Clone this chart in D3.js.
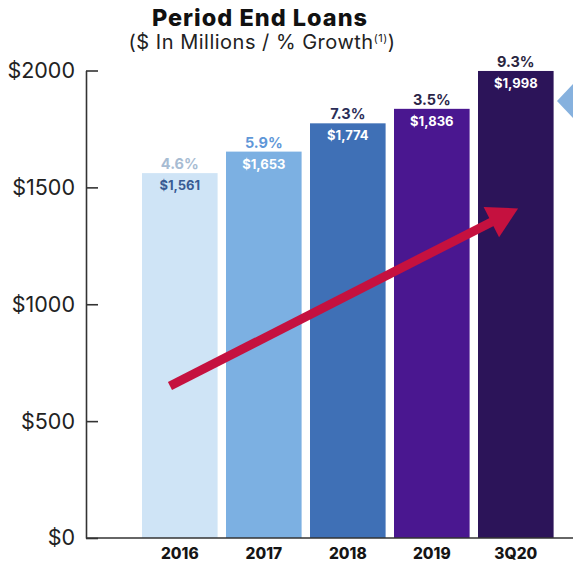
<!DOCTYPE html>
<html>
<head>
<meta charset="utf-8">
<script src="https://cdn.jsdelivr.net/npm/d3@7"></script>
<style>
  html, body { margin: 0; padding: 0; background: #ffffff; }
  svg { display: block; }
  text { font-family: Inter, "Open Sans", sans-serif; }
</style>
</head>
<body>
<svg id="chart" width="573" height="566"></svg>
<script>
// Period end loans, $ millions, with year-over-year growth
const categories = ["2016", "2017", "2018", "2019", "3Q20"];
const loans = [1561, 1653, 1774, 1836, 1998];
const growth = ["4.6%", "5.9%", "7.3%", "3.5%", "9.3%"];
const yTicks = [0, 500, 1000, 1500, 2000];

// Trend arrow expressed in data terms: [category, position within band, value]
const trendStart = ["2016", 0.37, 650];
const trendEnd = ["3Q20", 0.53, 1410];

const barColors = ["#cfe4f6", "#7cb0e2", "#3f70b6", "#4a1790", "#2c1459"];
const pctColors = ["#a7bcd3", "#5f97d8", "#2b2d58", "#2a2548", "#2a2540"];
const valColors = ["#3a5b94", "#ffffff", "#ffffff", "#ffffff", "#ffffff"];

const svg = d3.select("#chart");
const axisX = 86, baseY = 538, topY = 70.5;
const labelFont = "'Liberation Sans', Arial, sans-serif";

const x = d3.scaleBand()
  .domain(categories)
  .range([137.8, 557.8])
  .paddingInner(0.1)
  .paddingOuter(0.05);

const y = d3.scaleLinear()
  .domain([0, 2000])
  .range([baseY, topY]);

// Title
svg.append("text")
  .attr("x", 260).attr("y", 26)
  .attr("text-anchor", "middle")
  .attr("font-size", 23.5).attr("font-weight", 800)
  .attr("letter-spacing", 1)
  .attr("fill", "#111")
  .text("Period End Loans");

const sub = svg.append("text")
  .attr("x", 262).attr("y", 49)
  .attr("text-anchor", "middle")
  .attr("font-size", 20)
  .attr("letter-spacing", 0.5)
  .attr("fill", "#222");
sub.append("tspan").text("($ In Millions / % Growth");
sub.append("tspan").attr("font-size", 11).attr("dy", -7).text("(1)");
sub.append("tspan").attr("dy", 7).text(")");

// Bars
const bars = svg.append("g");
bars.selectAll("rect")
  .data(categories)
  .join("rect")
  .attr("x", d => x(d))
  .attr("y", (d, i) => y(loans[i]))
  .attr("width", x.bandwidth())
  .attr("height", (d, i) => baseY - y(loans[i]))
  .attr("fill", (d, i) => barColors[i]);

// Value labels inside bar tops
bars.selectAll("text.val")
  .data(categories)
  .join("text")
  .attr("class", "val")
  .attr("x", d => x(d) + x.bandwidth() / 2)
  .attr("y", (d, i) => y(loans[i]) + 17)
  .attr("text-anchor", "middle")
  .attr("font-family", labelFont)
  .attr("font-size", 13).attr("font-weight", 700)
  .attr("fill", (d, i) => valColors[i])
  .text((d, i) => "$" + d3.format(",")(loans[i]));

// Growth labels above bars
bars.selectAll("text.pct")
  .data(categories)
  .join("text")
  .attr("class", "pct")
  .attr("x", d => x(d) + x.bandwidth() / 2)
  .attr("y", (d, i) => y(loans[i]) - 4)
  .attr("text-anchor", "middle")
  .attr("font-family", labelFont)
  .attr("font-size", 14.5).attr("font-weight", 700)
  .attr("fill", (d, i) => pctColors[i])
  .text((d, i) => growth[i]);

// Y axis with inward ticks
const yAxis = d3.axisLeft(y)
  .tickValues(yTicks)
  .tickSize(-12)
  .tickSizeOuter(0)
  .tickPadding(11)
  .tickFormat(d => "$" + d);

const gy = svg.append("g")
  .attr("transform", `translate(${axisX},0)`)
  .call(yAxis);
gy.select(".domain").attr("stroke", "#333").attr("stroke-width", 1.6);
gy.selectAll(".tick line").attr("stroke", "#333").attr("stroke-width", 1.6);
gy.selectAll(".tick text")
  .attr("font-size", 21.5)
  .attr("font-family", "Inter, sans-serif")
  .attr("fill", "#222");

// X axis: category labels and a baseline running to the edge
const xAxis = d3.axisBottom(x).tickSize(0).tickPadding(10);
const gx = svg.append("g")
  .attr("transform", `translate(0,${baseY})`)
  .call(xAxis);
gx.select(".domain").remove();
gx.selectAll(".tick text")
  .attr("font-size", 15.5).attr("font-weight", 800)
  .attr("font-family", "Inter, sans-serif")
  .attr("fill", "#151515");

svg.append("line")
  .attr("x1", axisX).attr("x2", 573)
  .attr("y1", baseY).attr("y2", baseY)
  .attr("stroke", "#333").attr("stroke-width", 1.6);

// Trend arrow
const x0 = x(trendStart[0]) + x.bandwidth() * trendStart[1];
const y0 = y(trendStart[2]);
const x1 = x(trendEnd[0]) + x.bandwidth() * trendEnd[1];
const y1 = y(trendEnd[2]);
const ang = Math.atan2(y1 - y0, x1 - x0);
const headLen = 30, headHalf = 17;
const ux = Math.cos(ang), uy = Math.sin(ang);
const bx = x1 - ux * headLen, by = y1 - uy * headLen;

svg.append("line")
  .attr("x1", x0).attr("y1", y0)
  .attr("x2", bx + ux * 2).attr("y2", by + uy * 2)
  .attr("stroke", "#c5113f").attr("stroke-width", 9);

svg.append("path")
  .attr("d", d3.line()([
    [x1, y1],
    [bx - uy * headHalf, by + ux * headHalf],
    [bx + uy * headHalf, by - ux * headHalf]
  ]) + "Z")
  .attr("fill", "#c5113f");

// Pointer shape at right edge
svg.append("path")
  .attr("d", "M557,101 L575,82 L575,120 Z")
  .attr("fill", "#86b1de");
</script>
</body>
</html>
